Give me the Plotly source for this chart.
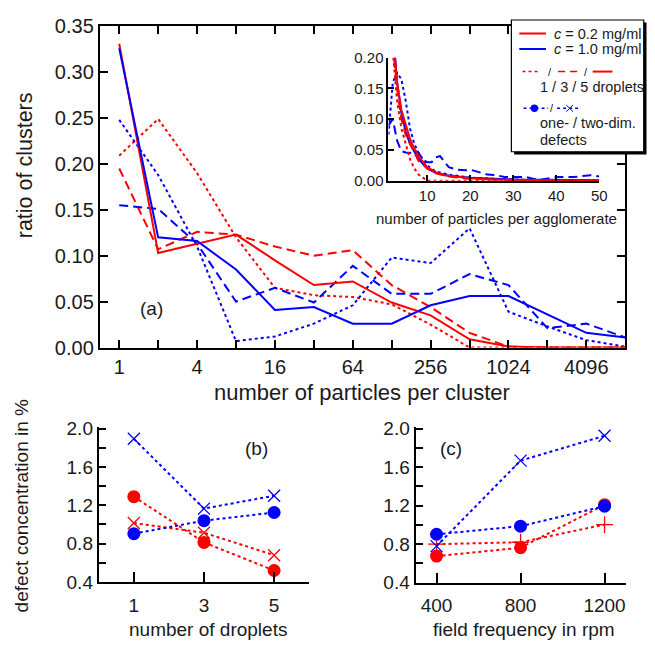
import plotly.graph_objects as go
import math

W, H = 655, 650
def px(x): return x / W
def py(y): return 1 - y / H

RED = "#ff0000"
BLUE = "#0000ff"
TXT = "#1a1a1a"
FONT = "Liberation Sans, Arial, sans-serif"

# ---------------- panel (a): ratio of clusters vs cluster size ----------------
cluster_size = [1, 2, 4, 8, 16, 32, 64, 128, 256, 512, 1024, 2048, 4096, 8192]
red_1drop = [0.209, 0.249, 0.19, 0.12, 0.065, 0.057, 0.055, 0.047, 0.025, 0.0, 0.0, 0.0, 0.0, 0.0]
red_3drop = [0.195, 0.107, 0.126, 0.123, 0.110, 0.100, 0.106, 0.068, 0.044, 0.016, 0.001, 0.0, 0.0, 0.0]
red_5drop = [0.331, 0.103, 0.113, 0.123, 0.095, 0.068, 0.072, 0.049, 0.035, 0.009, 0.001, 0.0, 0.0, 0.0]
blue_1drop = [0.248, 0.188, 0.11, 0.007, 0.012, 0.026, 0.046, 0.098, 0.092, 0.130, 0.039, 0.023, 0.008, 0.001]
blue_3drop = [0.155, 0.151, 0.113, 0.050, 0.065, 0.049, 0.089, 0.0585, 0.0585, 0.080, 0.068, 0.021, 0.026, 0.011]
blue_5drop = [0.326, 0.120, 0.116, 0.085, 0.041, 0.044, 0.026, 0.026, 0.046, 0.056, 0.056, 0.036, 0.016, 0.011]
a_tick_labels = ["1", "", "4", "", "16", "", "64", "", "256", "", "1024", "", "4096", ""]

# ---------------- inset: particles per agglomerate ----------------
in_red1_x = [2, 3, 4, 5, 6, 7, 8, 9, 10, 20, 50]
in_red1_y = [0.21, 0.13, 0.085, 0.06, 0.035, 0.02, 0.01, 0.005, 0.0, 0.0, 0.0]
in_red3_x = [2, 3, 4, 5, 6, 7, 8, 10, 12, 15, 20, 30, 50]
in_red3_y = [0.22, 0.15, 0.10, 0.075, 0.06, 0.045, 0.032, 0.02, 0.012, 0.007, 0.003, 0.001, 0.0]
in_red5_x = [2, 3, 4, 5, 6, 7, 8, 10, 12, 14, 17, 20, 25, 30, 40, 50]
in_red5_y = [0.24, 0.16, 0.115, 0.09, 0.068, 0.052, 0.04, 0.022, 0.014, 0.009, 0.006, 0.004, 0.002, 0.001, 0.0, 0.0]
in_blue1_x = [1, 2, 3, 4, 5, 6, 7, 8, 9, 10, 12, 15, 20, 30, 50]
in_blue1_y = [0.075, 0.16, 0.175, 0.165, 0.13, 0.085, 0.06, 0.045, 0.035, 0.025, 0.015, 0.01, 0.005, 0.002, 0.0]
in_blue3_x = [1, 2, 3, 4, 5, 6, 7, 8, 9, 10, 11, 12, 13, 14, 15, 17, 19, 20, 22, 24, 26, 28, 30, 33, 36, 40, 44, 48, 50]
in_blue3_y = [0.09, 0.10, 0.065, 0.048, 0.046, 0.045, 0.05, 0.045, 0.035, 0.03, 0.03, 0.038, 0.04, 0.03, 0.022,
              0.018, 0.017, 0.018, 0.014, 0.01, 0.009, 0.006, 0.006, 0.006, 0.001, 0.006, 0.006, 0.009, 0.007]
in_blue5_x = [2, 3, 4, 5, 6, 8, 10, 12, 15, 20, 30, 50]
in_blue5_y = [0.25, 0.16, 0.11, 0.08, 0.06, 0.035, 0.02, 0.013, 0.008, 0.005, 0.002, 0.001]

# ---------------- panel (b): defects vs number of droplets ----------------
droplets = [1, 3, 5]
b_red_1d = [1.29, 0.813, 0.52]
b_red_2d = [1.015, 0.914, 0.68]
b_blue_1d = [0.904, 1.04, 1.125]
b_blue_2d = [1.894, 1.166, 1.30]

# ---------------- panel (c): defects vs field frequency ----------------
freq = [400, 800, 1200]
c_red_1d = [0.676, 0.763, 1.21]
c_red_2d = [0.80, 0.82, 1.004]
c_blue_1d = [0.903, 0.987, 1.195]
c_blue_2d = [0.78, 1.668, 1.926]

defect_ticks = [0.4, 0.6, 0.8, 1.0, 1.2, 1.4, 1.6, 1.8, 2.0]
defect_labels = ["0.4", "", "0.8", "", "1.2", "", "1.6", "", "2.0"]

DASH = "9px,5px"
fig = go.Figure()

def line(x, y, color, dash, xa, ya, w=2):
    fig.add_trace(go.Scatter(x=x, y=y, mode="lines", xaxis=xa, yaxis=ya,
                             line=dict(color=color, width=w, dash=dash),
                             showlegend=False, hoverinfo="skip"))

# panel (a)
line(cluster_size, red_1drop, RED, "dot", "x", "y")
line(cluster_size, blue_1drop, BLUE, "dot", "x", "y")
line(cluster_size, red_3drop, RED, DASH, "x", "y")
line(cluster_size, blue_3drop, BLUE, DASH, "x", "y")
line(cluster_size, red_5drop, RED, "solid", "x", "y")
line(cluster_size, blue_5drop, BLUE, "solid", "x", "y")

# inset
line(in_blue5_x, in_blue5_y, BLUE, "solid", "x2", "y2")
line(in_blue1_x, in_blue1_y, BLUE, "dot", "x2", "y2")
line(in_blue3_x, in_blue3_y, BLUE, DASH, "x2", "y2")
line(in_red1_x, in_red1_y, RED, "dot", "x2", "y2")
line(in_red3_x, in_red3_y, RED, DASH, "x2", "y2")
line(in_red5_x, in_red5_y, RED, "solid", "x2", "y2")

def mk(x, y, color, symbol, xa, ya):
    if symbol == "circle":
        m = dict(symbol="circle", size=13, color=color)
    else:
        m = dict(symbol=symbol, size=12, color=color, line=dict(color=color, width=1.3))
    fig.add_trace(go.Scatter(x=x, y=y, mode="lines+markers", xaxis=xa, yaxis=ya,
                             line=dict(color=color, width=2, dash="dot"), marker=m,
                             showlegend=False, hoverinfo="skip"))

mk(droplets, b_red_1d, RED, "circle", "x3", "y3")
mk(droplets, b_red_2d, RED, "x-thin", "x3", "y3")
mk(droplets, b_blue_1d, BLUE, "circle", "x3", "y3")
mk(droplets, b_blue_2d, BLUE, "x-thin", "x3", "y3")

mk(freq, c_red_1d, RED, "circle", "x4", "y4")
mk(freq, c_red_2d, RED, "cross-thin", "x4", "y4")
mk(freq, c_blue_1d, BLUE, "circle", "x4", "y4")
mk(freq, c_blue_2d, BLUE, "x-thin", "x4", "y4")

ax_common = dict(showline=True, linecolor="black", linewidth=2, showgrid=False, zeroline=False,
                 ticks="inside", tickcolor="black", tickwidth=1.5,
                 tickfont=dict(family=FONT, size=19, color=TXT))

fig.update_layout(
    width=W, height=H, margin=dict(l=0, r=0, t=0, b=0),
    paper_bgcolor="white", plot_bgcolor="rgba(0,0,0,0)",
    xaxis=dict(ax_common, domain=[px(101), px(633)], anchor="y", type="log",
               range=[math.log10(2 ** -0.5), math.log10(8192)],
               tickvals=cluster_size, ticktext=a_tick_labels, mirror="ticks", ticklen=8,
               ticklabelstandoff=0, tickfont=dict(family=FONT, size=20, color=TXT)),
    yaxis=dict(ax_common, domain=[py(348.3), py(15.8)], anchor="x", range=[0, 0.35],
               dtick=0.05, tick0=0, tickformat=".2f", mirror="ticks", ticklen=8,
               tickfont=dict(family=FONT, size=20, color=TXT)),
    xaxis2=dict(ax_common, domain=[px(393.3), px(606.7)], anchor="y2", range=[1, 50],
                tickvals=[10, 20, 30, 40, 50], ticklen=6,
                tickfont=dict(family=FONT, size=15, color=TXT)),
    yaxis2=dict(ax_common, domain=[py(175.7), py(48.3)], anchor="x2", range=[0, 0.2],
                dtick=0.05, tick0=0, tickformat=".2f", ticklen=6,
                tickfont=dict(family=FONT, size=15, color=TXT)),
    xaxis3=dict(ax_common, domain=[px(100), px(313)], anchor="y3", range=[0, 6],
                tickvals=droplets, ticklen=10, ticklabelstandoff=5),
    yaxis3=dict(ax_common, domain=[py(591), py(430.3)], anchor="x3", range=[0.4, 2.02],
                tickvals=defect_ticks, ticktext=defect_labels, ticklen=7),
    xaxis4=dict(ax_common, domain=[px(420.7), px(633.3)], anchor="y4", range=[300, 1300],
                tickvals=freq, ticklen=10, ticklabelstandoff=5),
    yaxis4=dict(ax_common, domain=[py(591.7), py(430.3)], anchor="x4", range=[0.4, 2.02],
                tickvals=defect_ticks, ticktext=defect_labels, ticklen=7),
)

def ann(text, x, y, size=19, xanchor="center", angle=0):
    fig.add_annotation(text=text, x=px(x), y=py(y), xref="paper", yref="paper",
                       showarrow=False, xanchor=xanchor, yanchor="middle", textangle=angle,
                       font=dict(family=FONT, size=size, color=TXT))

ann("ratio of clusters", 25, 160, size=21.5, angle=-90)
ann("number of particles per cluster", 366, 395, size=22)
ann("number of particles per agglomerate", 503, 215, size=15)
ann("(a)", 153, 308)
ann("(b)", 260, 453)
ann("(c)", 457, 453)
ann("defect concentration in %", 22, 512, angle=-90)
ann("number of droplets", 211, 640)
ann("field frequency in rpm", 530, 640)

# ---------------- custom legend box ----------------
shapes = []
shapes.append(dict(type="rect", xref="paper", yref="paper", x0=px(520.5), x1=px(654.5),
                   y0=py(148.5), y1=py(12), fillcolor="black", line=dict(width=0), layer="above"))
shapes.append(dict(type="rect", xref="paper", yref="paper", x0=px(517.7), x1=px(651.7),
                   y0=py(145.7), y1=py(9.3), fillcolor="white",
                   line=dict(color="black", width=1.2), layer="above"))

def seg(x0, x1, y, color, dash="solid", w=2):
    shapes.append(dict(type="line", xref="paper", yref="paper", x0=px(x0), x1=px(x1),
                       y0=py(y), y1=py(y), line=dict(color=color, width=w, dash=dash), layer="above"))

seg(525.7, 552.7, 23.3, RED)
seg(525.7, 552.7, 39.3, BLUE)
seg(529, 547, 62.7, RED, "dot", 1.5)
seg(565, 587, 62.7, RED, "7px,5px", 1.5)
seg(600, 620, 62.7, RED, "solid", 2)
seg(530, 555, 100.7, BLUE, "dot", 1.5)
seg(564, 587, 100.7, BLUE, "dot", 1.5)
r = 3.8
shapes.append(dict(type="circle", xref="paper", yref="paper", x0=px(541 - r), x1=px(541 + r),
                   y0=py(100.7 + r), y1=py(100.7 - r), fillcolor=BLUE, line=dict(width=0), layer="above"))
d = 3.5
for (xa, ya, xb, yb) in [(576.7 - d, 100.7 - d, 576.7 + d, 100.7 + d), (576.7 - d, 100.7 + d, 576.7 + d, 100.7 - d)]:
    shapes.append(dict(type="line", xref="paper", yref="paper", x0=px(xa), x1=px(xb),
                       y0=py(ya), y1=py(yb), line=dict(color=BLUE, width=1), layer="above"))
fig.update_layout(shapes=shapes)

ann("<i>c</i> = 0.2 mg/ml", 559, 23.3, size=14.5, xanchor="left")
ann("<i>c</i> = 1.0 mg/ml", 559, 39.3, size=14.5, xanchor="left")
ann("/", 557, 62.7, size=11)
ann("/", 593, 62.7, size=11)
ann("1 / 3 / 5 droplets", 544.3, 79, size=14.5, xanchor="left")
ann("/", 559, 100.7, size=11)
ann("one- / two-dim.", 544.3, 115.7, size=14.5, xanchor="left")
ann("defects", 544.3, 133.3, size=14.5, xanchor="left")

fig.write_html("out.html")
